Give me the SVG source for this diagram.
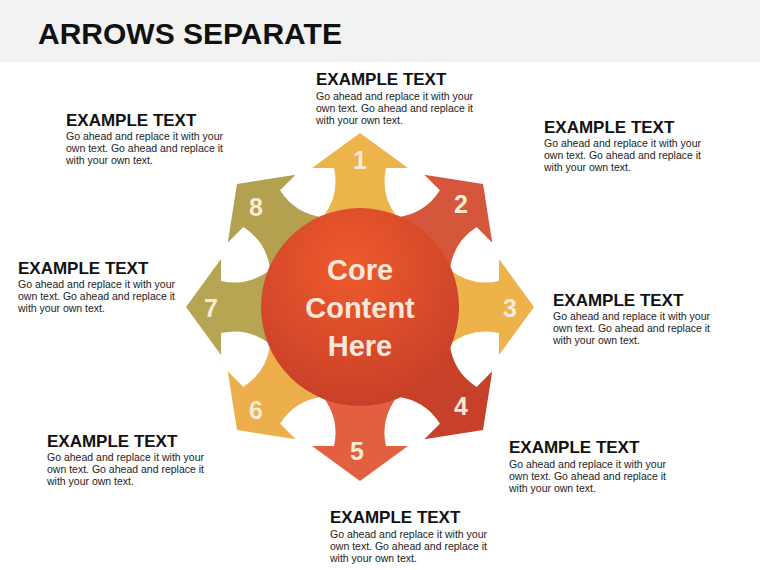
<svg xmlns="http://www.w3.org/2000/svg" width="760" height="570" viewBox="0 0 760 570">
<defs>
<style>
.h{font-family:"Liberation Sans",Arial,sans-serif;font-weight:bold;font-size:17px;fill:#111}
.b{font-family:"Liberation Sans",Arial,sans-serif;font-size:10.5px;fill:#222}
.n{font-family:"Liberation Sans",Arial,sans-serif;font-weight:bold;font-size:25px;fill:#F8EBD6;text-anchor:middle}
.c{font-family:"Liberation Sans",Arial,sans-serif;font-weight:bold;font-size:29px;fill:#F9E8DA;text-anchor:middle}
</style>
<path id="arw" d="M0 0 L-37 -90 Q-20 -112 -26 -139 L-48 -139 L0 -174 L48 -139 L26 -139 Q20 -112 37 -90 Z"/>
<radialGradient id="cg" cx="0.45" cy="0.3" r="0.75">
<stop offset="0" stop-color="#EE5A2C"/><stop offset="1" stop-color="#C63E28"/>
</radialGradient>
</defs>
<rect width="760" height="570" fill="#FFFFFF"/>
<rect width="760" height="62" fill="#F2F2F2"/>
<text x="38" y="44" font-family="Liberation Sans,Arial,sans-serif" font-weight="bold" font-size="30" fill="#111">ARROWS SEPARATE</text>
<g id="connectors"></g>
<g transform="translate(360,307)">
<g id="arrow1"><use href="#arw" fill="#EDB44B" transform="rotate(0)"/></g>
<g id="arrow2"><use href="#arw" fill="#D5563B" transform="rotate(45)"/></g>
<g id="arrow3"><use href="#arw" fill="#EEB24B" transform="rotate(90)"/></g>
<g id="arrow4"><use href="#arw" fill="#C6402A" transform="rotate(135)"/></g>
<g id="arrow5"><use href="#arw" fill="#E2603F" transform="rotate(180)"/></g>
<g id="arrow6"><use href="#arw" fill="#EDAE4C" transform="rotate(225)"/></g>
<g id="arrow7"><use href="#arw" fill="#B6A553" transform="rotate(270)"/></g>
<g id="arrow8"><use href="#arw" fill="#B3A150" transform="rotate(315)"/></g>
<g id="core"><circle cx="0" cy="0" r="99" fill="url(#cg)"/>
<text class="c" x="0" y="-27">Core</text><text class="c" x="0" y="11">Content</text><text class="c" x="0" y="49">Here</text></g>
</g>
<g id="numbers">
<text class="n" x="360" y="169">1</text><text class="n" x="461" y="213">2</text><text class="n" x="510" y="317">3</text><text class="n" x="461" y="415">4</text>
<text class="n" x="357" y="460">5</text><text class="n" x="256" y="419">6</text><text class="n" x="211" y="317">7</text><text class="n" x="256" y="216">8</text>
</g>
<g id="t1"><text class="h" x="316" y="85">EXAMPLE TEXT</text><text class="b" x="316" y="100">Go ahead and replace it with your</text><text class="b" x="316" y="112">own text. Go ahead and replace it</text><text class="b" x="316" y="124">with your own text.</text></g>
<g id="t2"><text class="h" x="544" y="133">EXAMPLE TEXT</text><text class="b" x="544" y="147">Go ahead and replace it with your</text><text class="b" x="544" y="159">own text. Go ahead and replace it</text><text class="b" x="544" y="171">with your own text.</text></g>
<g id="t3"><text class="h" x="553" y="306">EXAMPLE TEXT</text><text class="b" x="553" y="320">Go ahead and replace it with your</text><text class="b" x="553" y="332">own text. Go ahead and replace it</text><text class="b" x="553" y="344">with your own text.</text></g>
<g id="t4"><text class="h" x="509" y="453">EXAMPLE TEXT</text><text class="b" x="509" y="468">Go ahead and replace it with your</text><text class="b" x="509" y="480">own text. Go ahead and replace it</text><text class="b" x="509" y="492">with your own text.</text></g>
<g id="t5"><text class="h" x="330" y="523">EXAMPLE TEXT</text><text class="b" x="330" y="538">Go ahead and replace it with your</text><text class="b" x="330" y="550">own text. Go ahead and replace it</text><text class="b" x="330" y="562">with your own text.</text></g>
<g id="t6"><text class="h" x="47" y="447">EXAMPLE TEXT</text><text class="b" x="47" y="461">Go ahead and replace it with your</text><text class="b" x="47" y="473">own text. Go ahead and replace it</text><text class="b" x="47" y="485">with your own text.</text></g>
<g id="t7"><text class="h" x="18" y="274">EXAMPLE TEXT</text><text class="b" x="18" y="288">Go ahead and replace it with your</text><text class="b" x="18" y="300">own text. Go ahead and replace it</text><text class="b" x="18" y="312">with your own text.</text></g>
<g id="t8"><text class="h" x="66" y="126">EXAMPLE TEXT</text><text class="b" x="66" y="140">Go ahead and replace it with your</text><text class="b" x="66" y="152">own text. Go ahead and replace it</text><text class="b" x="66" y="164">with your own text.</text></g>
</svg>
